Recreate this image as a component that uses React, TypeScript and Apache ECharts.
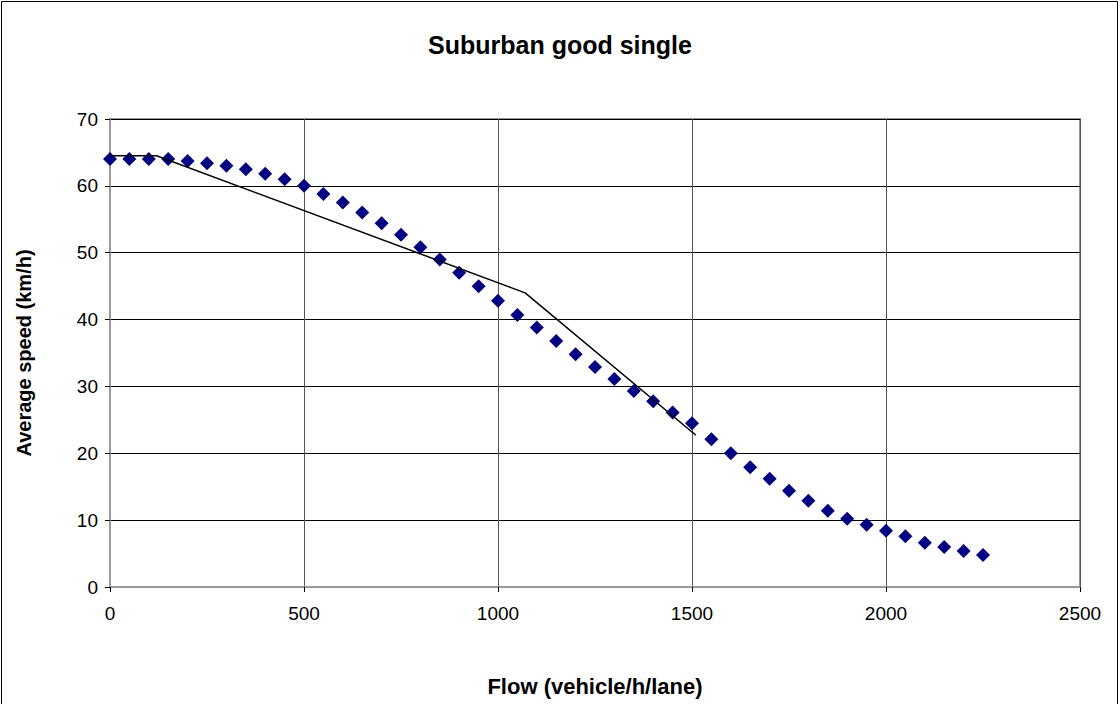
import React, { useEffect, useRef } from "react";
import * as echarts from "echarts";

const flow = [0, 50, 100, 150, 200, 250, 300, 350, 400, 450, 500, 550, 600, 650, 700, 750, 800, 850, 900, 950, 1000, 1050, 1100, 1150, 1200, 1250, 1300, 1350, 1400, 1450, 1500, 1550, 1600, 1650, 1700, 1750, 1800, 1850, 1900, 1950, 2000, 2050, 2100, 2150, 2200, 2250];
const speed = [64, 64, 64, 64, 63.7, 63.4, 63.0, 62.5, 61.8, 61.0, 60.0, 58.8, 57.5, 56, 54.4, 52.7, 50.8, 49, 47, 45, 42.8, 40.7, 38.8, 36.8, 34.8, 32.9, 31.1, 29.3, 27.8, 26.1, 24.5, 22.1, 20.0, 17.9, 16.2, 14.4, 12.9, 11.4, 10.2, 9.3, 8.4, 7.6, 6.6, 6.0, 5.4, 4.8];
const fitFlow = [0, 120, 1070, 1510];
const fitSpeed = [64.5, 64.5, 44, 22.7];

export default function App() {
  const ref = useRef<HTMLDivElement>(null);
  useEffect(() => {
    const chart = echarts.init(ref.current!, null, { renderer: "svg" });
    const font = "'Liberation Sans', Arial, sans-serif";
    chart.setOption({
      animation: false,
      backgroundColor: "#fff",
      title: {
        text: "Suburban good single",
        left: "center",
        top: 27,
        textStyle: { fontFamily: font, fontSize: 25, fontWeight: "bold", color: "#000" },
      },
      graphic: [
        {
          type: "rect",
          shape: { x: 1.5, y: 1.5, width: 1116, height: 720 },
          style: { fill: "none", stroke: "#000", lineWidth: 1 },
          silent: true,
        },
      ],
      grid: { left: 110, right: 40, top: 119, bottom: 117, show: true, borderColor: "#999", borderWidth: 2, backgroundColor: "transparent" },
      xAxis: {
        type: "value",
        min: 0,
        max: 2500,
        interval: 500,
        name: "Flow (vehicle/h/lane)",
        nameLocation: "middle",
        nameGap: 88,
        nameTextStyle: { fontFamily: font, fontSize: 22, fontWeight: "bold", color: "#000" },
        axisLine: { show: true, lineStyle: { color: "#999", width: 2 } },
        axisTick: { show: true, length: 5, lineStyle: { color: "#000" } },
        axisLabel: { fontFamily: font, fontSize: 19, color: "#000", margin: 17, formatter: (v: number) => String(v) },
        splitLine: { show: true, lineStyle: { color: "#555", width: 1 } },
      },
      yAxis: {
        type: "value",
        min: 0,
        max: 70,
        interval: 10,
        name: "Average speed (km/h)",
        nameLocation: "middle",
        nameGap: 76,
        nameRotate: 90,
        nameTextStyle: { fontFamily: font, fontSize: 20, fontWeight: "bold", color: "#000" },
        axisLine: { show: true, lineStyle: { color: "#999", width: 2 } },
        axisTick: { show: true, length: 5, lineStyle: { color: "#000" } },
        axisLabel: { fontFamily: font, fontSize: 19, color: "#000", margin: 12 },
        splitLine: { show: true, lineStyle: { color: "#000", width: 1 } },
      },
      series: [
        {
          type: "scatter",
          data: flow.map((f, i) => [f, speed[i]]),
          symbol: "diamond",
          symbolSize: 14,
          itemStyle: { color: "#000080", opacity: 1 },
          z: 3,
        },
        {
          type: "line",
          data: fitFlow.map((f, i) => [f, fitSpeed[i]]),
          showSymbol: false,
          symbol: "none",
          lineStyle: { color: "#000", width: 1.5 },
          z: 4,
        },
      ],
    });
    return () => chart.dispose();
  }, []);
  return <div ref={ref} style={{ position: "fixed", left: 0, top: 0, width: 1120, height: 704 }} />;
}
